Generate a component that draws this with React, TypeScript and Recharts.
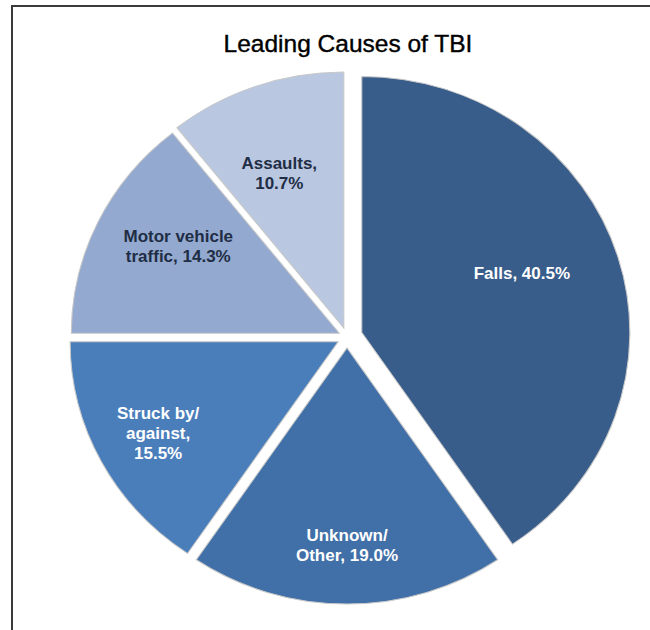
import { PieChart, Pie, Cell, Sector } from 'recharts'

// Leading causes of TBI, share of cases (%)
const causes = ['Falls', 'Unknown/Other', 'Struck by/against', 'Motor vehicle traffic', 'Assaults']
const shares = [40.5, 19.0, 15.5, 14.3, 10.7]
// label text per slice; the percentage goes on the end of the last line
const captionLines = [
  ['Falls, '],
  ['Unknown/', 'Other, '],
  ['Struck by/', 'against,', ''],
  ['Motor vehicle', 'traffic, '],
  ['Assaults,', ''],
]

const COLORS = ['#385D8A', '#4170A8', '#4A7EBB', '#93A9CF', '#B9C7E1']
const TEXT_COLORS = ['#ffffff', '#ffffff', '#ffffff', '#1F2D45', '#1F2D45']
const EXPLODE = [15.5, 11, 10, 8.5, 9.5] // px each slice is pulled out
const LABEL_POS = [
  { frac: 0.64, shift: 4 },
  { frac: 0.77, shift: 0 },
  { frac: 0.76, shift: 0 },
  { frac: 0.69, shift: -3.7 },
  { frac: 0.65, shift: 2.5 },
]
const SX = 1.047 // source picture is a little wider than tall
const RAD = Math.PI / 180

const data = causes.map((name, i) => ({ name, value: shares[i], idx: i }))

const idxOf = (p: any) => p.idx ?? p.payload?.idx ?? causes.indexOf(p.name)

function ExplodedSector(props: any) {
  const { cx, cy, midAngle, innerRadius, outerRadius, startAngle, endAngle, fill } = props
  const i = idxOf(props)
  const off = EXPLODE[i] ?? 0
  const dx = off * Math.cos(midAngle * RAD)
  const dy = -off * Math.sin(midAngle * RAD)
  return (
    <g transform={`translate(${cx + dx} ${cy + dy}) scale(${SX} 1) translate(${-cx} ${-cy})`}>
      <Sector
        cx={cx}
        cy={cy}
        innerRadius={innerRadius}
        outerRadius={outerRadius}
        startAngle={startAngle}
        endAngle={endAngle}
        fill={fill}
        stroke="#c8c8c8"
        strokeWidth={1}
      />
    </g>
  )
}

function renderLabel(props: any) {
  const { cx, cy, midAngle, outerRadius, value } = props
  const i = idxOf(props)
  const off = EXPLODE[i] ?? 0
  const ax = cx + off * Math.cos(midAngle * RAD)
  const ay = cy - off * Math.sin(midAngle * RAD)
  const { frac, shift } = LABEL_POS[i]
  const a = (midAngle + shift) * RAD
  const x = ax + SX * outerRadius * frac * Math.cos(a)
  const y = ay - outerRadius * frac * Math.sin(a)
  const lines = captionLines[i].map((l, k, arr) => (k === arr.length - 1 ? `${l}${Number(value).toFixed(1)}%` : l))
  const lh = 20
  return (
    <text
      x={x}
      y={y - ((lines.length - 1) * lh) / 2}
      textAnchor="middle"
      dominantBaseline="central"
      fill={TEXT_COLORS[i]}
      fontSize={17}
      fontWeight="bold"
      fontFamily="Arial, 'Liberation Sans', sans-serif"
    >
      {lines.map((l, k) => (
        <tspan key={k} x={x} dy={k === 0 ? 0 : lh}>
          {l}
        </tspan>
      ))}
    </text>
  )
}

export default function App() {
  return (
    <div style={{ position: 'absolute', left: 0, top: 0, width: 650, height: 630, background: '#fff', overflow: 'hidden' }}>
      <div
        style={{
          position: 'absolute',
          left: 11,
          top: 5,
          width: 660,
          height: 640,
          borderLeft: '2px solid #3a3a3a',
          borderTop: '2px solid #3a3a3a',
        }}
      />
      <div
        style={{
          position: 'absolute',
          left: 0,
          top: 32,
          width: 696,
          textAlign: 'center',
          fontFamily: "Arial, 'Liberation Sans', sans-serif",
          fontSize: 24.5,
          lineHeight: '24px',
          color: '#000',
          WebkitTextStroke: '0.4px #000',
        }}
      >
        Leading Causes of TBI
      </div>
      <div style={{ position: 'absolute', left: 0, top: 0 }}>
        <PieChart width={650} height={630} margin={{ top: 0, right: 0, bottom: 0, left: 0 }}>
          <Pie
            data={data}
            dataKey="value"
            nameKey="name"
            cx={347}
            cy={337}
            outerRadius={256}
            startAngle={90}
            endAngle={-270}
            isAnimationActive={false}
            labelLine={false}
            label={renderLabel}
            shape={ExplodedSector}
          >
            {data.map((d, i) => (
              <Cell key={d.name} fill={COLORS[i]} />
            ))}
          </Pie>
        </PieChart>
      </div>
    </div>
  )
}
